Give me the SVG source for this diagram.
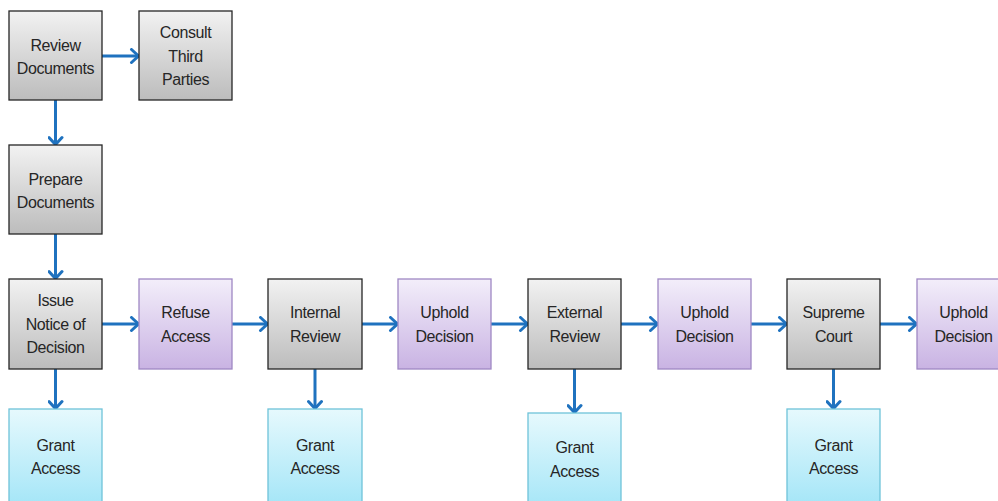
<svg xmlns="http://www.w3.org/2000/svg" width="998" height="501" viewBox="0 0 998 501">
<defs>
<linearGradient id="gGray" x1="0" y1="0" x2="0" y2="1"><stop offset="0" stop-color="#f2f2f2"/><stop offset="1" stop-color="#bcbcbc"/></linearGradient>
<linearGradient id="gPurple" x1="0" y1="0" x2="0" y2="1"><stop offset="0" stop-color="#f3eefa"/><stop offset="1" stop-color="#c9b3e3"/></linearGradient>
<linearGradient id="gCyan" x1="0" y1="0" x2="0" y2="1"><stop offset="0" stop-color="#e6f9fd"/><stop offset="1" stop-color="#a2e5f7"/></linearGradient>
<marker id="arr" markerUnits="userSpaceOnUse" viewBox="0 0 12 16" refX="10.5" refY="8" markerWidth="12" markerHeight="16" orient="auto">
<polyline points="3,1.5 10,8 3,14.5" fill="none" stroke="#1f72bf" stroke-width="3" stroke-linecap="round" stroke-linejoin="miter"/>
</marker>
</defs>
<style>
.gray{fill:url(#gGray);stroke:#262626;stroke-width:1.3}
.purple{fill:url(#gPurple);stroke:#9f88c4;stroke-width:1.3}
.cyan{fill:url(#gCyan);stroke:#6fc3d9;stroke-width:1.3}
text{font-family:"Liberation Sans",Arial,sans-serif;font-size:16px;letter-spacing:-0.4px;fill:#262626;text-anchor:middle}
.c line{stroke:#1f72bf;stroke-width:3;marker-end:url(#arr)}
</style>
<rect width="998" height="501" fill="#ffffff"/>
<g class="c" id="connectors">
<line x1="102" y1="56" x2="139" y2="56"/>
<line x1="55.5" y1="100" x2="55.5" y2="145"/>
<line x1="55.5" y1="234" x2="55.5" y2="279"/>
<line x1="55.5" y1="369" x2="55.5" y2="409"/>
<line x1="102" y1="324" x2="139" y2="324"/>
<line x1="232" y1="324" x2="268" y2="324"/>
<line x1="362" y1="324" x2="398" y2="324"/>
<line x1="491" y1="324" x2="528" y2="324"/>
<line x1="621" y1="324" x2="658" y2="324"/>
<line x1="751" y1="324" x2="787" y2="324"/>
<line x1="880" y1="324" x2="917" y2="324"/>
<line x1="315" y1="369" x2="315" y2="409"/>
<line x1="574.5" y1="369" x2="574.5" y2="413"/>
<line x1="833.5" y1="369" x2="833.5" y2="409"/>
</g>
<g id="review-documents"><rect class="gray" x="9" y="11" width="93" height="89"/><text x="55.5" y="50.5">Review</text><text x="55.5" y="74">Documents</text></g>
<g id="consult-third-parties"><rect class="gray" x="139" y="11" width="93" height="89"/><text x="185.5" y="37.5">Consult</text><text x="185.5" y="61.5">Third</text><text x="185.5" y="84.5">Parties</text></g>
<g id="prepare-documents"><rect class="gray" x="9" y="145" width="93" height="89"/><text x="55.5" y="184.5">Prepare</text><text x="55.5" y="208">Documents</text></g>
<g id="issue-notice"><rect class="gray" x="9" y="279" width="93" height="90"/><text x="55.5" y="306">Issue</text><text x="55.5" y="329.5">Notice of</text><text x="55.5" y="353">Decision</text></g>
<g id="refuse-access"><rect class="purple" x="139" y="279" width="93" height="90"/><text x="185.5" y="318">Refuse</text><text x="185.5" y="341.5">Access</text></g>
<g id="internal-review"><rect class="gray" x="268" y="279" width="94" height="90"/><text x="315" y="318">Internal</text><text x="315" y="341.5">Review</text></g>
<g id="uphold-1"><rect class="purple" x="398" y="279" width="93" height="90"/><text x="444.5" y="318">Uphold</text><text x="444.5" y="341.5">Decision</text></g>
<g id="external-review"><rect class="gray" x="528" y="279" width="93" height="90"/><text x="574.5" y="318">External</text><text x="574.5" y="341.5">Review</text></g>
<g id="uphold-2"><rect class="purple" x="658" y="279" width="93" height="90"/><text x="704.5" y="318">Uphold</text><text x="704.5" y="341.5">Decision</text></g>
<g id="supreme-court"><rect class="gray" x="787" y="279" width="93" height="90"/><text x="833.5" y="318">Supreme</text><text x="833.5" y="341.5">Court</text></g>
<g id="uphold-3"><rect class="purple" x="917" y="279" width="93" height="90"/><text x="963.5" y="318">Uphold</text><text x="963.5" y="341.5">Decision</text></g>
<g id="grant-1"><rect class="cyan" x="9" y="409" width="93" height="100"/><text x="55.5" y="450.5">Grant</text><text x="55.5" y="474">Access</text></g>
<g id="grant-2"><rect class="cyan" x="268" y="409" width="94" height="100"/><text x="315" y="450.5">Grant</text><text x="315" y="474">Access</text></g>
<g id="grant-3"><rect class="cyan" x="528" y="413" width="93" height="100"/><text x="574.5" y="453">Grant</text><text x="574.5" y="476.5">Access</text></g>
<g id="grant-4"><rect class="cyan" x="787" y="409" width="93" height="100"/><text x="833.5" y="450.5">Grant</text><text x="833.5" y="474">Access</text></g>
</svg>
